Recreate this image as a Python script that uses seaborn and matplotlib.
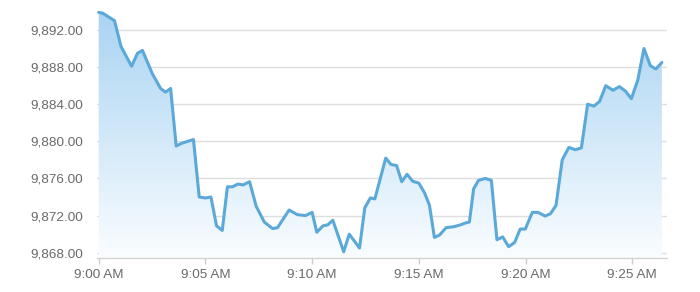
import numpy as np
import pandas as pd
import matplotlib
matplotlib.use("Agg")
import matplotlib.pyplot as plt
import seaborn as sns
from matplotlib.colors import LinearSegmentedColormap

# minutes after 9:00 AM
minutes = [0.00, 0.20, 0.74, 1.05, 1.54, 1.82, 2.05, 2.51, 2.90, 3.13,
           3.37, 3.63, 3.90, 4.44, 4.71, 4.99, 5.26, 5.52, 5.79, 6.03,
           6.26, 6.53, 6.76, 7.07, 7.38, 7.76, 8.15, 8.38, 8.92, 9.31,
           9.69, 10.00, 10.22, 10.51, 10.73, 10.97, 11.48, 11.74, 12.22, 12.47,
           12.73, 12.94, 13.45, 13.70, 13.96, 14.20, 14.45, 14.71, 15.00, 15.28,
           15.50, 15.73, 15.97, 16.28, 16.64, 16.95, 17.18, 17.37, 17.57, 17.80,
           18.12, 18.40, 18.66, 18.93, 19.21, 19.49, 19.75, 19.99, 20.32, 20.58,
           20.92, 21.17, 21.43, 21.72, 22.03, 22.33, 22.62, 22.91, 23.21, 23.47,
           23.76, 24.10, 24.40, 24.69, 24.96, 25.26, 25.55, 25.85, 26.11, 26.39]

prices = [9893.9, 9893.8, 9893.0, 9890.2, 9888.1, 9889.5, 9889.8, 9887.3, 9885.7, 9885.3,
          9885.7, 9879.5, 9879.8, 9880.2, 9874.0, 9873.9, 9874.0, 9870.9, 9870.4, 9875.1,
          9875.1, 9875.4, 9875.3, 9875.65, 9873.0, 9871.3, 9870.6, 9870.7, 9872.6, 9872.1,
          9872.0, 9872.35, 9870.2, 9870.9, 9871.0, 9871.5, 9868.1, 9870.0, 9868.5, 9872.85,
          9873.9, 9873.8, 9878.2, 9877.5, 9877.4, 9875.65, 9876.45, 9875.7, 9875.5, 9874.4,
          9873.1, 9869.65, 9869.9, 9870.7, 9870.8, 9871.0, 9871.2, 9871.3, 9874.9, 9875.8,
          9876.0, 9875.8, 9869.4, 9869.7, 9868.65, 9869.1, 9870.55, 9870.55, 9872.35, 9872.35,
          9871.95, 9872.2, 9873.1, 9878.0, 9879.35, 9879.1, 9879.3, 9884.0, 9883.8, 9884.3,
          9886.0, 9885.5, 9885.9, 9885.4, 9884.6, 9886.6, 9890.0, 9888.15, 9887.8, 9888.5]

y_ticks = [9868, 9872, 9876, 9880, 9884, 9888, 9892]
x_tick_minutes = [0, 5, 10, 15, 20, 25]
x_tick_labels = ["9:00 AM", "9:05 AM", "9:10 AM", "9:15 AM", "9:20 AM", "9:25 AM"]

sns.set_theme(style="white")
plt.rcParams['font.family'] = ['Liberation Sans', 'DejaVu Sans']

df = pd.DataFrame({"minute": minutes, "price": prices})

fig = plt.figure(figsize=(7, 2.92), dpi=100)
ax = fig.add_axes([97/700, 1 - 258/292, 570/700, 250/292])

ylim = (9867.43, 9894.37)
xlim = (-0.08, 26.63)

# gradient fill under the line
poly = ax.fill_between(df["minute"], df["price"], ylim[0], color="none", lw=0)
cmap = LinearSegmentedColormap.from_list("g", ["#fafdff", "#a8d3f2"])
grad = np.linspace(0, 1, 256).reshape(-1, 1)
im = ax.imshow(grad, cmap=cmap, aspect="auto", origin="lower",
               extent=[xlim[0], xlim[1], ylim[0], ylim[1]], zorder=1)
im.set_clip_path(poly.get_paths()[0], transform=ax.transData)

sns.lineplot(data=df, x="minute", y="price", color="#5ba9d8", lw=2.2, ax=ax, zorder=3)

ax.set_xlim(*xlim)
ax.set_ylim(*ylim)
ax.set_xlabel("")
ax.set_ylabel("")

ax.set_yticks(y_ticks, labels=[f"{v:,.2f}" for v in y_ticks])
ax.set_xticks(x_tick_minutes, labels=x_tick_labels)

ax.yaxis.grid(True, color="#dedede", lw=1)
ax.xaxis.grid(False)
ax.set_axisbelow(True)
for s in ["top", "right", "left"]:
    ax.spines[s].set_visible(False)
ax.spines["bottom"].set_color("#d4d4d4")
ax.spines["bottom"].set_linewidth(1)

ax.tick_params(axis="y", length=0, pad=10, labelsize=9.7, labelcolor="#6a6a6a")
ax.tick_params(axis="x", length=4.5, width=1, color="#cccccc", direction="out",
               pad=3.5, labelsize=9.7, labelcolor="#6a6a6a", bottom=True)

fig.savefig("out.png", dpi=100)
